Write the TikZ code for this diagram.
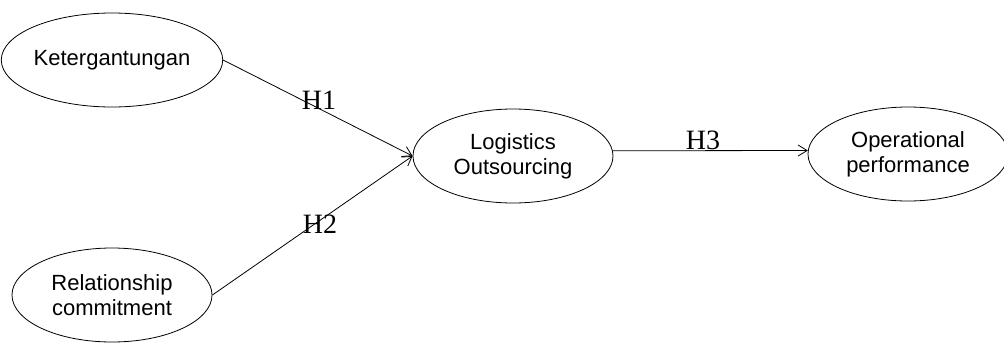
\documentclass[tikz,border=0pt]{standalone}
\usepackage{fontspec}
\setmainfont{Liberation Sans}
\newfontfamily\hfont{Liberation Serif}
\usetikzlibrary{shapes.geometric,arrows.meta}
\tikzset{
  construct/.style={ellipse,draw,line width=0.8bp,minimum width=200bp,minimum height=94bp,inner sep=0pt,align=center,font=\fontsize{22bp}{25bp}\selectfont},
  path arrow/.style={line width=0.8bp,-{Straight Barb[length=9bp,width=11bp,line width=0.8bp]}},
  hlabel/.style={anchor=base,inner sep=0pt,font=\hfont\fontsize{28bp}{30bp}\selectfont}
}
\begin{document}
\begin{tikzpicture}[x=1bp,y=-1bp]
\useasboundingbox (0,0) rectangle (1004,342);
\node[construct] (K) at (112,60) {Ketergantungan};
\node[construct] (R) at (112,295) {Relationship\\commitment};
\node[construct] (L) at (513,156) {Logistics\\Outsourcing};
\node[construct] (O) at (908,154) {Operational\\performance};
\draw[path arrow] (K.east) -- (L.west);
\draw[path arrow] (R.east) -- (L.west);
\draw[path arrow] (L.3) -- (O.178);
\node[hlabel] (h1) at (319,109) {H1};
\node[hlabel] (h2) at (320,233) {H2};
\node[hlabel] (h3) at (703,149) {H3};
\end{tikzpicture}
\end{document}
